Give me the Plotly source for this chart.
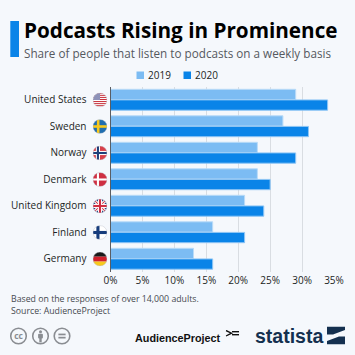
import base64
import plotly.graph_objects as go

countries = ["United States", "Sweden", "Norway", "Denmark", "United Kingdom", "Finland", "Germany"]
values_2019 = [29, 27, 23, 23, 21, 16, 13]
values_2020 = [34, 31, 29, 25, 24, 21, 16]
tick_values = [0, 5, 10, 15, 20, 25, 30, 35]
tick_labels = ["0%", "5%", "10%", "15%", "20%", "25%", "30%", "35%"]

W = H = 355
BG = "#f5f8fc"
C19 = "#7cbcf3"
C20 = "#0a84e8"
FONT = "Open Sans"

def uri(svg):
    return "data:image/svg+xml;base64," + base64.b64encode(svg.encode()).decode()

def flag(body):
    return uri('<svg xmlns="http://www.w3.org/2000/svg" width="28" height="28" viewBox="0 0 28 28">'
               '<defs><clipPath id="c"><circle cx="14" cy="14" r="13.6"/></clipPath></defs>'
               f'<g clip-path="url(#c)">{body}</g>'
               '<circle cx="14" cy="14" r="13.4" fill="none" stroke="#b9bcc4" stroke-width="0.8"/></svg>')

def rects(items):
    return "".join(f'<rect x="{x}" y="{y}" width="{w}" height="{h}" fill="{c}"/>' for x, y, w, h, c in items)

stripes = "".join(f'<rect x="0" y="{i*4}" width="28" height="2" fill="#c8323c"/>' for i in range(8))
flags = {
    "United States": '<rect width="28" height="28" fill="#fff"/>' + stripes + '<rect width="14" height="14" fill="#8d92b8"/>',
    "Sweden": rects([(0, 0, 28, 28, "#1f6eb0"), (8, 0, 5, 28, "#f7c81e"), (0, 11.5, 28, 5, "#f7c81e")]),
    "Norway": rects([(0, 0, 28, 28, "#d8404a"), (6, 0, 8, 28, "#fff"), (0, 10, 28, 8, "#fff"),
                     (8, 0, 4, 28, "#1d3f7a"), (0, 12, 28, 4, "#1d3f7a")]),
    "Denmark": rects([(0, 0, 28, 28, "#cf2f42"), (8, 0, 4, 28, "#fff"), (0, 12, 28, 4, "#fff")]),
    "United Kingdom": '<rect width="28" height="28" fill="#22407c"/>'
        '<path d="M0 0L28 28M28 0L0 28" stroke="#fff" stroke-width="6"/>'
        '<path d="M0 0L28 28M28 0L0 28" stroke="#cf2f42" stroke-width="2"/>'
        + rects([(10, 0, 8, 28, "#fff"), (0, 10, 28, 8, "#fff"), (12, 0, 4, 28, "#cf2f42"), (0, 12, 28, 4, "#cf2f42")]),
    "Finland": rects([(0, 0, 28, 28, "#fff"), (7, 0, 6, 28, "#163c7c"), (0, 11, 28, 6, "#163c7c")]),
    "Germany": rects([(0, 0, 28, 9.5, "#1a1a1a"), (0, 9.5, 28, 9.5, "#d0202c"), (0, 19, 28, 9, "#f8c91c")]),
}

def px(x): return x / W
def py(y): return 1 - y / H

fig = go.Figure()
fig.add_bar(name="2019", y=countries, x=values_2019, orientation="h",
            marker=dict(color=C19, line=dict(color="#b9dbf8", width=1)))
fig.add_bar(name="2020", y=countries, x=values_2020, orientation="h",
            marker=dict(color=C20, line=dict(color="#8fc6f5", width=1)))

images = []
FLAG_Y0 = 100
FLAG_STEP = 26.5
for i, c in enumerate(countries):
    images.append(dict(source=flag(flags[c]), xref="paper", yref="paper", x=px(100), y=py(FLAG_Y0 + i * FLAG_STEP),
                       sizex=14.5 / W, sizey=14.5 / H, xanchor="center", yanchor="middle", layer="above"))

def cc_icon(inner):
    return uri('<svg xmlns="http://www.w3.org/2000/svg" width="18" height="18" viewBox="0 0 18 18">'
               '<circle cx="9" cy="9" r="7.8" fill="none" stroke="#8a8d92" stroke-width="1.6"/>' + inner + '</svg>')

cc_imgs = [
    (cc_icon('<text x="9" y="12" font-family="Open Sans" font-weight="700" font-size="8.5" fill="#8a8d92" text-anchor="middle">cc</text>'), 18.5),
    (cc_icon('<circle cx="9" cy="4.8" r="1.5" fill="#8a8d92"/><rect x="6.6" y="6.8" width="4.8" height="4.6" rx="1" fill="#8a8d92"/><rect x="7.8" y="11" width="2.4" height="4.4" fill="#8a8d92"/>'), 40.5),
    (cc_icon('<rect x="5.4" y="6.6" width="7.2" height="1.7" fill="#8a8d92"/><rect x="5.4" y="9.8" width="7.2" height="1.7" fill="#8a8d92"/>'), 62),
]
for src, cx in cc_imgs:
    images.append(dict(source=src, xref="paper", yref="paper", x=px(cx), y=py(336), sizex=18 / W, sizey=18 / H,
                       xanchor="center", yanchor="middle"))

images.append(dict(source=uri('<svg xmlns="http://www.w3.org/2000/svg" width="18" height="18" viewBox="0 0 18 18">'
                              '<path d="M0 0H18V3.5L6 8H0ZM18 18H0V14.5L12 10H18Z" fill="#14304f"/></svg>'),
                   xref="paper", yref="paper", x=px(336), y=py(335.5), sizex=18 / W, sizey=18 / H,
                   xanchor="center", yanchor="middle"))
images.append(dict(source=uri('<svg xmlns="http://www.w3.org/2000/svg" width="14" height="7" viewBox="0 0 14 7">'
                              '<path d="M0.5 0.5L6 3.2L0.5 6" fill="none" stroke="#111" stroke-width="1.4"/>'
                              '<rect x="6.5" y="1" width="7" height="1.4" fill="#111"/><rect x="6.5" y="4" width="7" height="1.4" fill="#111"/></svg>'),
                   xref="paper", yref="paper", x=px(232.5), y=py(333.5), sizex=14 / W, sizey=7 / H,
                   xanchor="center", yanchor="middle"))

def note(x, y, text, size, color, anchor="left", family=FONT):
    return dict(xref="paper", yref="paper", x=px(x), y=py(y), text=text, showarrow=False, xanchor=anchor,
                yanchor="middle", font=dict(size=size, color=color, family=family), align="left",
                borderpad=0, borderwidth=0)

annotations = [
    note(24, 29.5, "<b>Podcasts Rising in Prominence</b>", 20.7, "#000000"),
    note(23.5, 53, "Share of people that listen to podcasts on a weekly basis", 11.7, "#55595f"),
    note(148, 75.5, "2019", 10, "#1c1f24"),
    note(195, 75.5, "2020", 10, "#1c1f24"),
    note(11, 298.5, "Based on the responses of over 14,000 adults.", 8.75, "#45494f"),
    note(11, 311, "Source: AudienceProject", 8.75, "#45494f"),
    note(134.5, 337.5, "<b>AudienceProject</b>", 10.8, "#111111", family="Liberation Sans"),
    note(255, 335.5, "<b>statista</b>", 19.5, "#14304f", family="Liberation Sans"),
]

shapes = [
    dict(type="rect", xref="paper", yref="paper", x0=px(10.3), x1=px(19), y0=py(21), y1=py(57),
         fillcolor=C20, line=dict(width=0)),
    dict(type="rect", xref="paper", yref="paper", x0=px(136.5), x1=px(144), y0=py(71.5), y1=py(79),
         fillcolor=C19, line=dict(width=0)),
    dict(type="rect", xref="paper", yref="paper", x0=px(183.5), x1=px(191), y0=py(71.5), y1=py(79),
         fillcolor=C20, line=dict(width=0)),
]

fig.update_layout(
    width=W, height=H, autosize=False,
    margin=dict(l=0, r=0, t=0, b=0, autoexpand=False),
    paper_bgcolor=BG, plot_bgcolor=BG,
    font=dict(family=FONT, size=10.5, color="#1c1f24"),
    barmode="group", bargap=0.2, bargroupgap=0.03,
    showlegend=False,
    xaxis=dict(domain=[px(110.5), px(334)], range=[0, 35], tickvals=tick_values, ticktext=tick_labels,
               gridcolor="#d9dde2", gridwidth=1, zeroline=False, showline=False, ticks="", fixedrange=True,
               anchor="y", automargin=False, ticklabelstandoff=1, tickfont=dict(size=10, color="#1c1f24")),
    yaxis=dict(domain=[py(272), py(86.5)], categoryorder="array", categoryarray=countries, autorange="reversed",
               showline=True, linecolor="#5a5e64", linewidth=1, ticks="", showgrid=False, zeroline=False,
               automargin=False, ticklabelstandoff=21, tickfont=dict(size=10, color="#1c1f24"), fixedrange=True),
    images=images, annotations=annotations, shapes=shapes,
)

fig.write_html("out.html", config=dict(displayModeBar=False),
               post_script=f"document.body.style.margin='0';document.body.style.background='{BG}';document.documentElement.style.overflow='hidden';")
